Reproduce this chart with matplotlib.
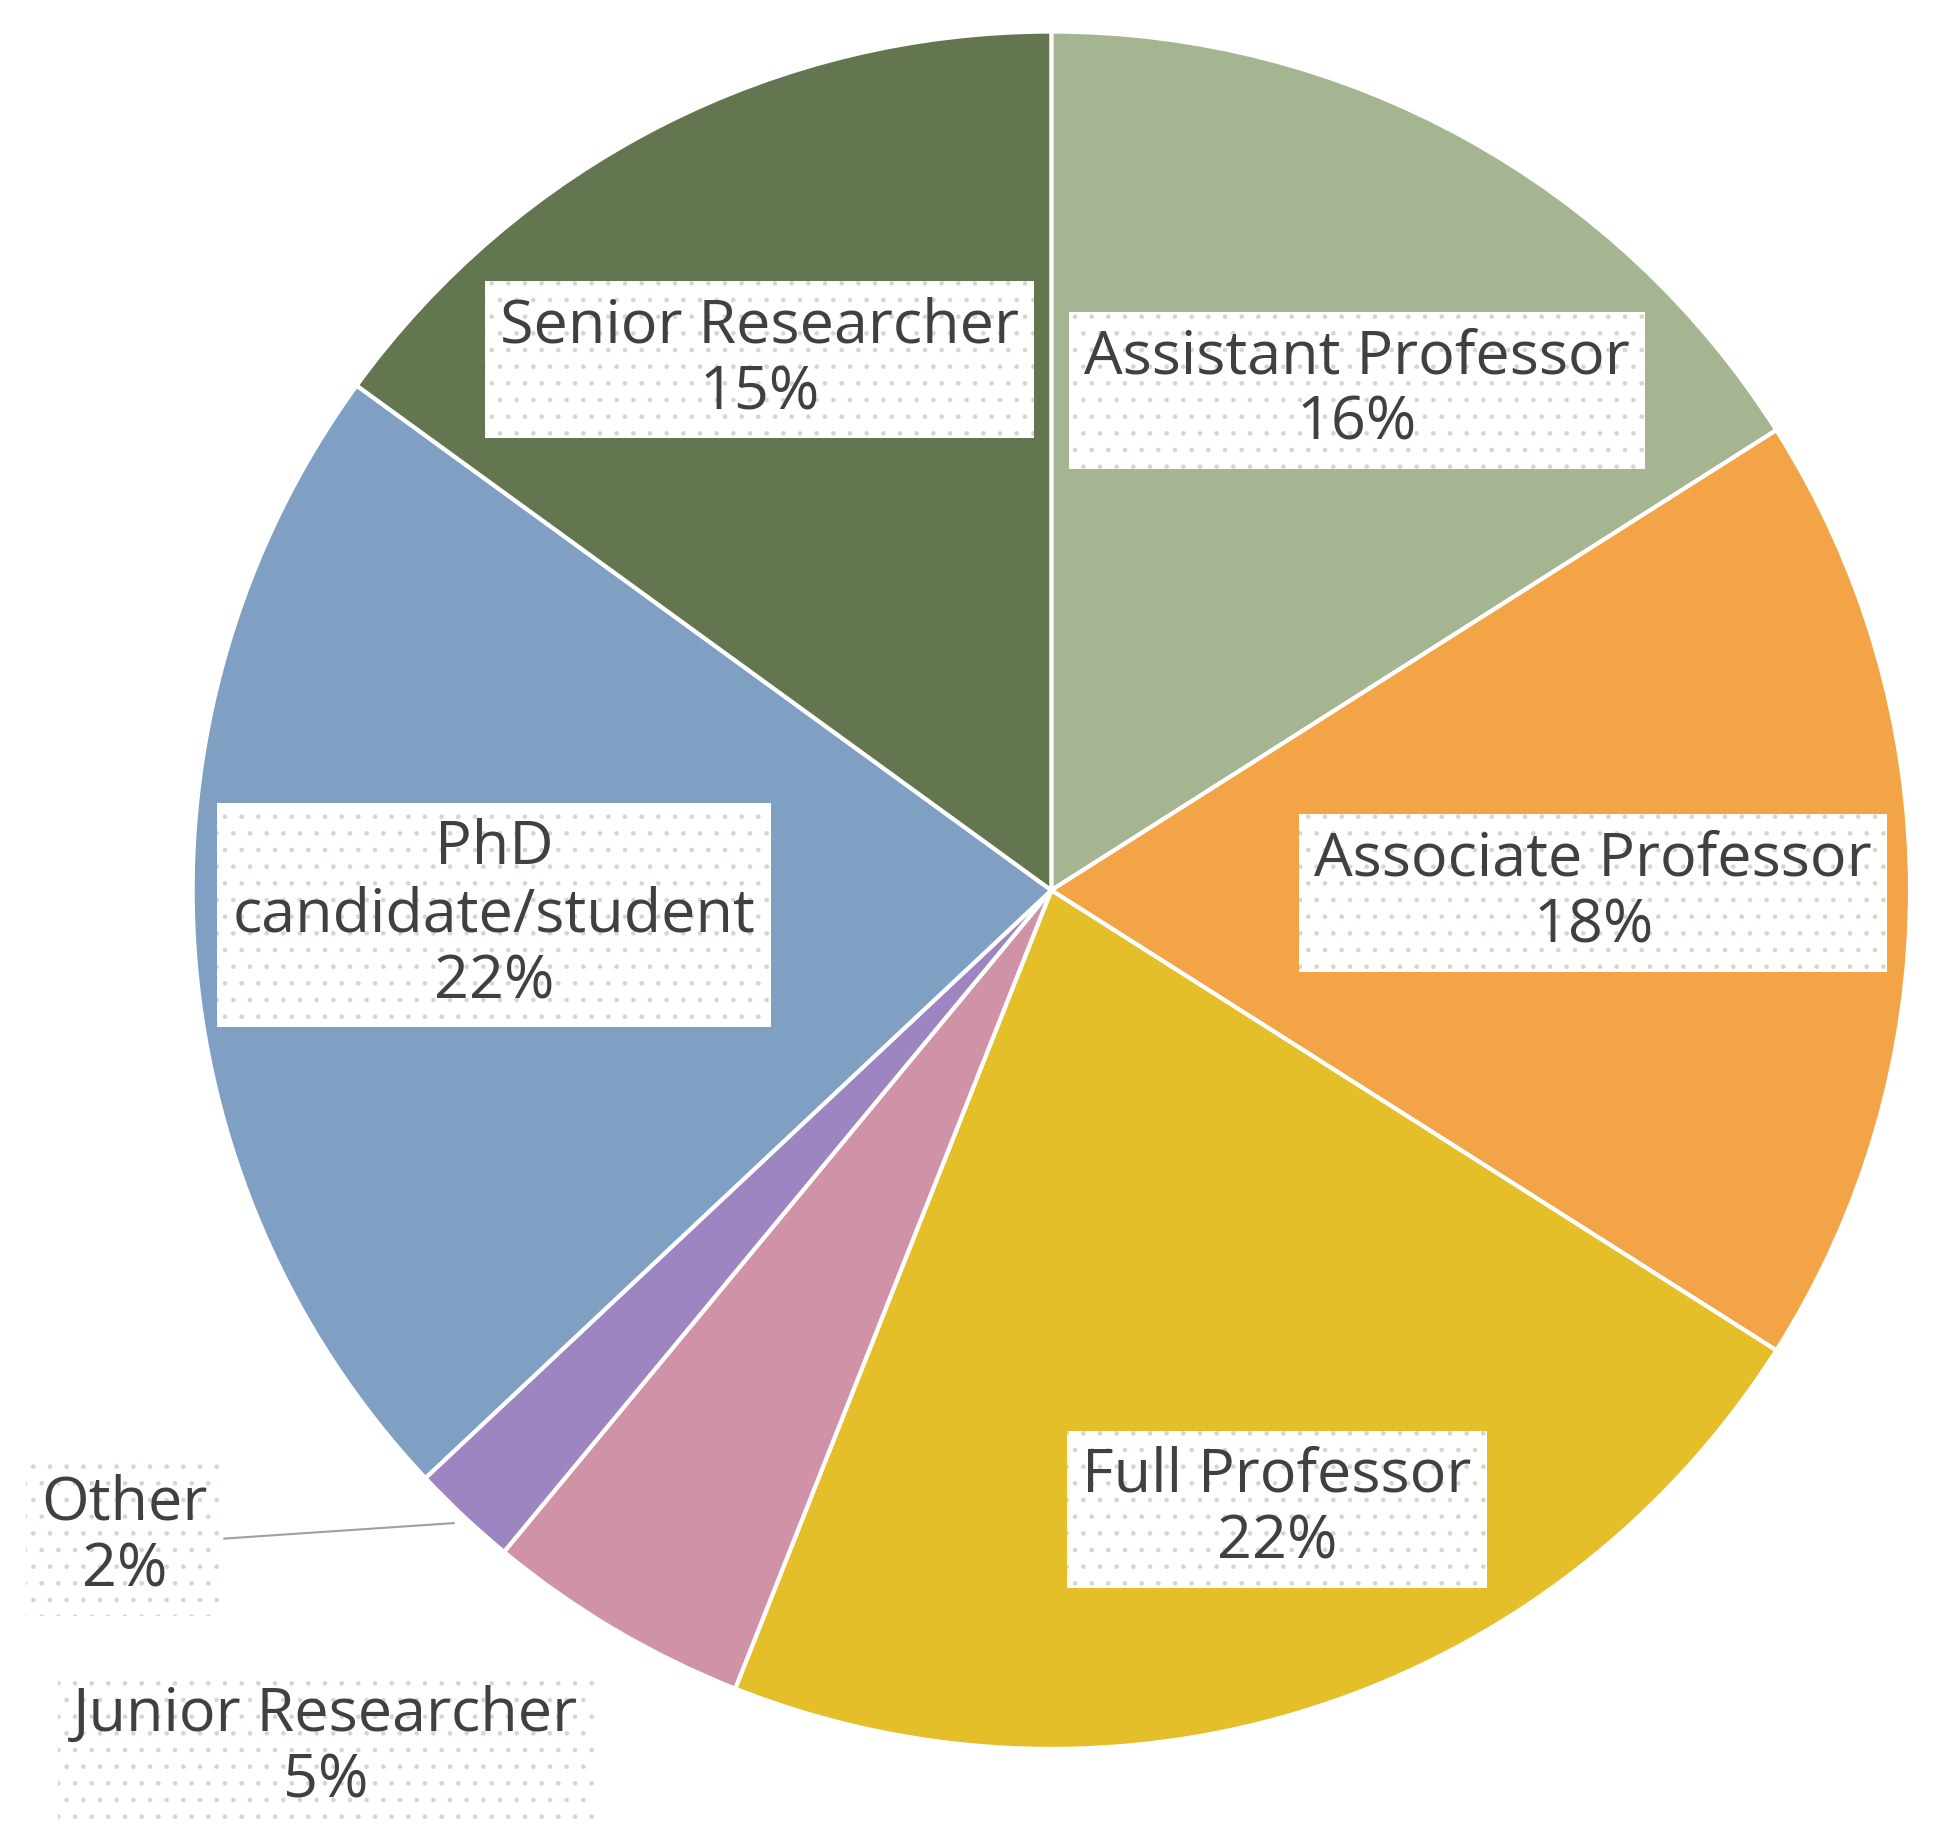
import matplotlib.pyplot as plt

labels = ["Assistant Professor", "Associate Professor", "Full Professor", "Junior Researcher",
          "Other", "PhD\ncandidate/student", "Senior Researcher"]
shares = [16, 18, 22, 5, 2, 22, 15]
colors = ["#A5B592", "#F3A447", "#E5BF29", "#D092A7", "#9C85C0", "#7F9FC3", "#637650"]
# label centres in data coords (pie radius 1)
label_pos = [(0.356, 0.582), (0.631, -0.003), (0.263, -0.721), (-0.845, -0.999),
             (-1.079, -0.753), (-0.649, -0.029), (-0.34, 0.618)]

plt.rcParams["font.family"] = ["Open Sans", "DejaVu Sans"]
plt.rcParams["hatch.linewidth"] = 0.9

fig = plt.figure(figsize=(19.34, 18.47), dpi=100)
ax = fig.add_axes([0.0996, 0.053, 0.888, 0.930])
ax.pie(shares, colors=colors, startangle=90, counterclock=False, radius=1,
       wedgeprops=dict(edgecolor="white", linewidth=3))
ax.set_xlim(-1, 1)
ax.set_ylim(-1, 1)
ax.set_aspect("equal")
ax.axis("off")

for lab, val, (x, y) in zip(labels, shares, label_pos):
    outside = lab in ("Other", "Junior Researcher")
    ax.text(x, y, f"{lab}\n{val}%", ha="center", va="center", fontsize=44,
            color="#404040", linespacing=1.15, clip_on=False,
            bbox=dict(boxstyle="square,pad=0.25", facecolor="none" if outside else "white",
                      edgecolor="#d3dac4", hatch=".", linewidth=0))

# leader line for "Other"
ax.plot([-0.963, -0.696], [-0.755, -0.737], color="#a0a0a0", lw=1.5, clip_on=False)

fig.savefig("out.png", dpi=100)
